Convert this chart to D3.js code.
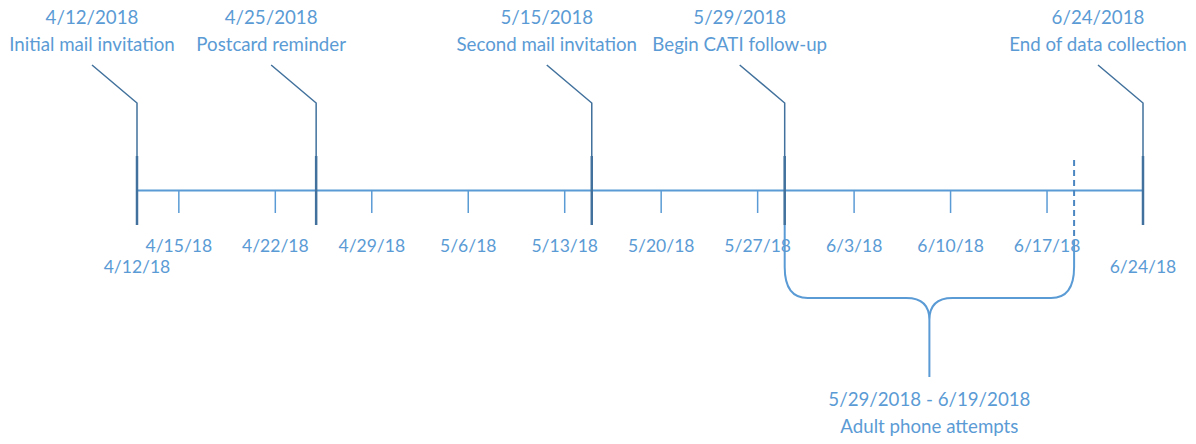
<!DOCTYPE html>
<html><head><meta charset="utf-8">
<script src="https://cdn.jsdelivr.net/npm/d3@7"></script>
<style>body{margin:0;background:#fff}svg{display:block}</style>
</head><body>
<svg id="c" width="1196" height="444"></svg>
<script>
const startDate = "2018-04-12", endDate = "2018-06-24";
const eventDates = ["2018-04-12","2018-04-25","2018-05-15","2018-05-29","2018-06-24"];
const eventDateLabels = ["4/12/2018","4/25/2018","5/15/2018","5/29/2018","6/24/2018"];
const eventLabels = ["Initial mail invitation","Postcard reminder","Second mail invitation","Begin CATI follow-up","End of data collection"];
const tickDates = ["2018-04-15","2018-04-22","2018-04-29","2018-05-06","2018-05-13","2018-05-20","2018-05-27","2018-06-03","2018-06-10","2018-06-17"];
const tickLabels = ["4/15/18","4/22/18","4/29/18","5/6/18","5/13/18","5/20/18","5/27/18","6/3/18","6/10/18","6/17/18"];
const endLabels = ["4/12/18","6/24/18"];
const spanDates = ["2018-05-29","2018-06-19"];
const spanLabels = ["5/29/2018 - 6/19/2018","Adult phone attempts"];

const parse = d3.timeParse("%Y-%m-%d");
const light = "#5b9bd5", dark = "#41719c";
const font = "Lato, 'Open Sans', sans-serif";
const svg = d3.select("#c");
const x = d3.scaleTime().domain([parse(startDate), parse(endDate)]).range([137, 1143]);
const axisY = 190;

// axis
const axis = d3.axisBottom(x)
  .tickValues(tickDates.map(parse))
  .tickFormat((d,i)=>tickLabels[i])
  .tickSizeInner(23).tickSizeOuter(0).tickPadding(27);
const g = svg.append("g").attr("transform",`translate(0,${axisY})`).call(axis);
g.select(".domain").attr("stroke", light).attr("stroke-width", 2);
g.selectAll(".tick line").attr("stroke", light).attr("stroke-width", 1.5);
g.selectAll(".tick text").attr("fill", light).attr("font-family", font).attr("font-size", 17.5);

// end labels (lower)
svg.selectAll("text.endl").data([startDate, endDate]).join("text")
  .attr("class","endl")
  .attr("x", d=>x(parse(d))).attr("y", 273)
  .attr("text-anchor","middle").attr("fill", light)
  .attr("font-family", font).attr("font-size", 17.5)
  .text((d,i)=>endLabels[i]);

// milestone markers
const ev = svg.append("g");
eventDates.forEach((d,i)=>{
  const xp = x(parse(d));
  ev.append("path").attr("d", `M${xp-45},65L${xp},103L${xp},225`)
    .attr("fill","none").attr("stroke", dark).attr("stroke-width", 1.5);
  ev.append("line").attr("x1",xp).attr("x2",xp).attr("y1",156).attr("y2",225)
    .attr("stroke", dark).attr("stroke-width", 2.5);
  ev.append("text").attr("x", xp-45).attr("y", 24).attr("text-anchor","middle")
    .attr("fill", light).attr("font-family", font).attr("font-size", 18.7).text(eventDateLabels[i]);
  ev.append("text").attr("x", xp-45).attr("y", 51).attr("text-anchor","middle")
    .attr("fill", light).attr("font-family", font).attr("font-size", 18.7).text(eventLabels[i]);
});

// span bracket
const x1 = x(parse(spanDates[0])), x2 = x(parse(spanDates[1])), xm = (x1+x2)/2;
svg.append("line").attr("x1",x2).attr("x2",x2).attr("y1",160).attr("y2",240)
  .attr("stroke", "#4a86c0").attr("stroke-width", 2).attr("stroke-dasharray","6,4");
const r = 23, yb = 298;
svg.append("path")
  .attr("d", `M${x1},225L${x1},${yb-r-8}Q${x1},${yb} ${x1+r},${yb}L${xm-r},${yb}Q${xm},${yb} ${xm},${yb+22}` +
             `M${x2},240L${x2},${yb-r-8}Q${x2},${yb} ${x2-r},${yb}L${xm+r},${yb}Q${xm},${yb} ${xm},${yb+22}L${xm},377`)
  .attr("fill","none").attr("stroke", light).attr("stroke-width", 2);
svg.selectAll("text.span").data(spanLabels).join("text")
  .attr("class","span").attr("x", xm).attr("y",(d,i)=>406+i*27)
  .attr("text-anchor","middle").attr("fill", light)
  .attr("font-family", font).attr("font-size", 18.7).text(d=>d);
</script>
</body></html>
